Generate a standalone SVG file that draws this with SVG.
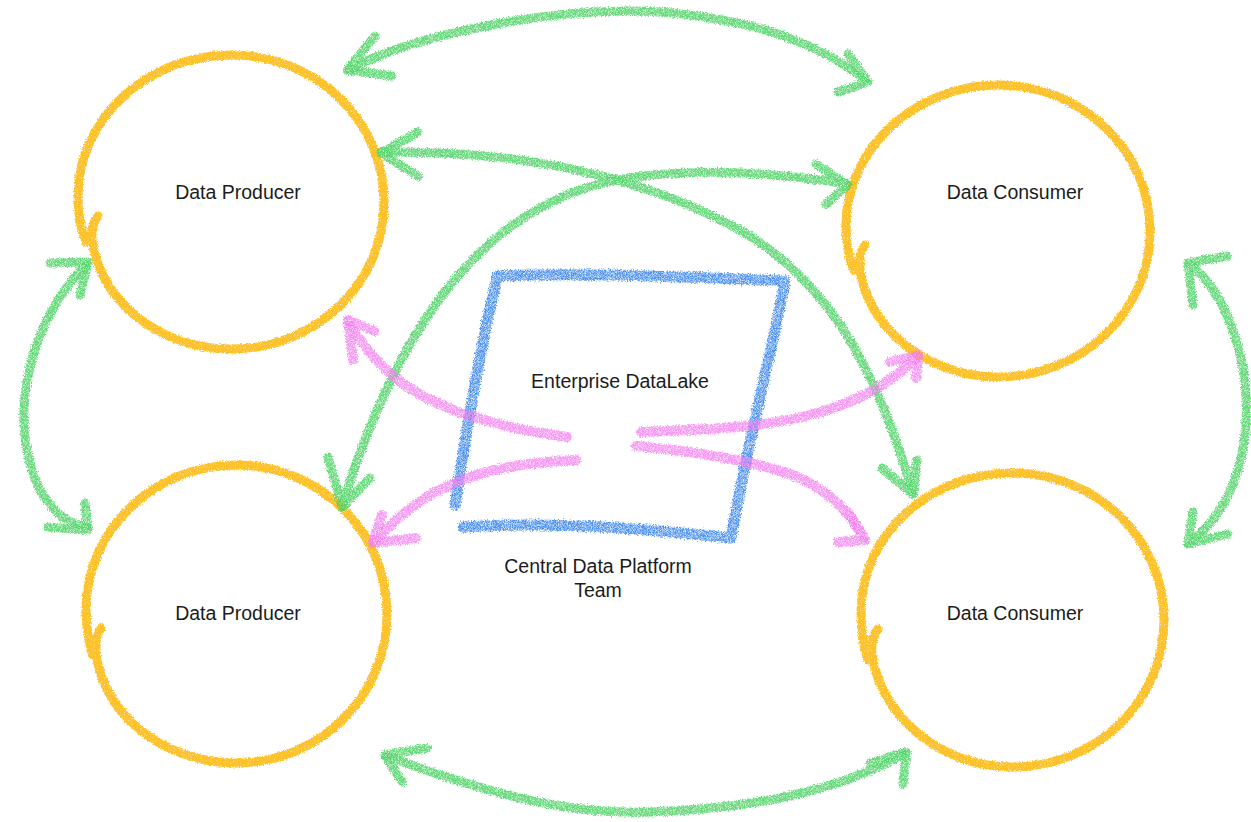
<svg xmlns="http://www.w3.org/2000/svg" width="1251" height="822" viewBox="0 0 1251 822">
  <defs>
    <!-- wax crayon texture: wobbly edges plus paper grain punched into the stroke -->
    <filter id="crayon" filterUnits="userSpaceOnUse" x="0" y="0" width="1251" height="822">
      <feTurbulence type="fractalNoise" baseFrequency="0.7" numOctaves="2" seed="4" result="fuzz"/>
      <feDisplacementMap in="SourceGraphic" in2="fuzz" scale="4" xChannelSelector="R" yChannelSelector="G" result="rough"/>
      <feTurbulence type="fractalNoise" baseFrequency="1.3" numOctaves="1" seed="9" result="grain"/>
      <feColorMatrix in="grain" type="matrix" values="0 0 0 0 0  0 0 0 0 0  0 0 0 0 0  2.8 0 0 0 -0.2" result="grainMask"/>
      <feComposite in="rough" in2="grainMask" operator="in"/>
    </filter>
    <filter id="crayon-blue" filterUnits="userSpaceOnUse" x="0" y="0" width="1251" height="822">
      <feTurbulence type="fractalNoise" baseFrequency="0.7" numOctaves="2" seed="6" result="fuzz"/>
      <feDisplacementMap in="SourceGraphic" in2="fuzz" scale="6" xChannelSelector="R" yChannelSelector="G" result="rough"/>
      <feTurbulence type="fractalNoise" baseFrequency="1.4" numOctaves="1" seed="13" result="grain"/>
      <feColorMatrix in="grain" type="matrix" values="0 0 0 0 0  0 0 0 0 0  0 0 0 0 0  2.2 0 0 0 -0.4" result="grainMask"/>
      <feComposite in="rough" in2="grainMask" operator="in"/>
    </filter>
    <filter id="crayon-soft" filterUnits="userSpaceOnUse" x="0" y="0" width="1251" height="822">
      <feTurbulence type="fractalNoise" baseFrequency="0.7" numOctaves="2" seed="11" result="fuzz"/>
      <feDisplacementMap in="SourceGraphic" in2="fuzz" scale="5" xChannelSelector="R" yChannelSelector="G" result="rough"/>
      <feTurbulence type="fractalNoise" baseFrequency="1.4" numOctaves="1" seed="3" result="grain"/>
      <feColorMatrix in="grain" type="matrix" values="0 0 0 0 0  0 0 0 0 0  0 0 0 0 0  2.4 0 0 0 -0.35" result="grainMask"/>
      <feComposite in="rough" in2="grainMask" operator="in"/>
    </filter>
  </defs>
  <style>
    .ring { fill: none; stroke: #FDC22C; stroke-width: 9; stroke-linecap: round; stroke-linejoin: round; }
    .lake { fill: none; stroke: #4A8FF0; stroke-width: 11; stroke-linecap: round; stroke-linejoin: round; }
    .flow { fill: none; stroke: #52D46A; stroke-width: 9; stroke-linecap: round; stroke-linejoin: round; stroke-opacity: 0.88; }
    .feed { fill: none; stroke: #F47CF0; stroke-width: 10; stroke-linecap: round; stroke-linejoin: round; stroke-opacity: 0.78; }
    .label { font-family: "Liberation Sans", Arial, sans-serif; font-size: 19.5px; fill: #1c1c1c; text-anchor: middle; }
  </style>

  <rect width="1251" height="822" fill="#ffffff"/>

  <!-- domain nodes -->
  <g id="producer-top">
    <path class="ring" filter="url(#crayon)" d="M 86,242 C 80,228 78,212 78,196 C 78,120 146,55 231,55 C 316,55 384,120 384,202 C 384,284 316,349 231,349 C 158,349 100,300 92,240 C 91,230 93,222 98,216"/>
    <text class="label" x="238" y="199">Data Producer</text>
  </g>
  <g id="consumer-top">
    <path class="ring" filter="url(#crayon)" d="M 854,270 C 848,256 846,240 846,225 C 846,150 914,85 998,85 C 1082,85 1150,150 1150,231 C 1150,312 1082,377 998,377 C 925,377 866,325 860,268 C 859,258 861,250 865,245"/>
    <text class="label" x="1015" y="199">Data Consumer</text>
  </g>
  <g id="producer-bottom">
    <path class="ring" filter="url(#crayon)" d="M 93,655 C 88,640 86,625 86,610 C 86,530 154,465 236,465 C 320,465 387,532 387,614 C 387,696 320,763 236,763 C 162,763 102,712 96,652 C 95,642 97,634 101,628"/>
    <text class="label" x="238" y="620">Data Producer</text>
  </g>
  <g id="consumer-bottom">
    <path class="ring" filter="url(#crayon)" d="M 868,660 C 863,645 861,628 861,612 C 861,534 930,473 1012,473 C 1096,473 1164,538 1164,620 C 1164,702 1096,767 1012,767 C 940,767 880,715 872,654 C 871,643 873,635 878,629"/>
    <text class="label" x="1015" y="620">Data Consumer</text>
  </g>

  <!-- central platform -->
  <g id="datalake">
    <g filter="url(#crayon-blue)">
      <path class="lake" d="M 455,505 C 468,420 482,340 497,278"/>
      <path class="lake" d="M 497,276 C 580,272 700,277 785,281 C 770,360 746,450 731,538"/>
      <path class="lake" d="M 463,527 C 550,521 650,529 731,538"/>
    </g>
    <text class="label" x="620" y="388">Enterprise DataLake</text>
    <text class="label" x="598" y="573">Central Data Platform</text>
    <text class="label" x="598" y="597">Team</text>
  </g>

  <!-- connectors -->
  <g id="connectors">
    <g id="peer-links" filter="url(#crayon-soft)">
      <!-- producer top <-> consumer top -->
      <path class="flow" d="M 348,70 C 420,32 560,6 660,12 C 760,20 820,45 866,80"/>
      <path class="flow" d="M 375,36 L 347,70 L 392,76"/>
      <path class="flow" d="M 848,54 L 868,82 L 838,92"/>
      <!-- producer top <-> consumer bottom -->
      <path class="flow" d="M 382,152 C 520,150 640,175 740,230 C 835,285 880,380 913,494"/>
      <path class="flow" d="M 418,132 L 381,153 L 418,176"/>
      <path class="flow" d="M 882,468 L 913,494 L 917,460"/>
      <!-- consumer top <-> producer bottom -->
      <path class="flow" d="M 848,184 C 760,170 650,165 580,190 C 480,225 400,320 342,506"/>
      <path class="flow" d="M 816,164 L 848,185 L 826,204"/>
      <path class="flow" d="M 328,457 L 342,507 L 370,478"/>
      <!-- producer top <-> producer bottom -->
      <path class="flow" d="M 86,265 C 30,320 5,420 40,490 C 55,515 70,525 88,527"/>
      <path class="flow" d="M 50,263 L 88,262 L 80,295"/>
      <path class="flow" d="M 48,527 L 88,530 L 85,503"/>
      <!-- consumer top <-> consumer bottom -->
      <path class="flow" d="M 1190,265 C 1225,290 1250,360 1246,420 C 1243,480 1220,520 1189,543"/>
      <path class="flow" d="M 1227,256 L 1188,263 L 1193,305"/>
      <path class="flow" d="M 1193,512 L 1188,544 L 1228,534"/>
      <!-- producer bottom <-> consumer bottom -->
      <path class="flow" d="M 386,756 C 480,790 560,815 650,812 C 760,808 840,790 906,753"/>
      <path class="flow" d="M 427,748 L 385,755 L 402,782"/>
      <path class="flow" d="M 870,763 L 906,752 L 903,784"/>
    </g>
    <g id="platform-links" filter="url(#crayon-soft)">
      <path class="feed" d="M 567,437 C 500,428 440,410 405,385 C 380,367 362,345 348,322"/>
      <path class="feed" d="M 374,331 L 348,320 L 353,360"/>
      <path class="feed" d="M 576,460 C 520,462 470,472 430,495 C 405,510 390,525 374,542"/>
      <path class="feed" d="M 382,515 L 373,543 L 416,538"/>
      <path class="feed" d="M 641,432 C 700,430 760,428 810,415 C 860,402 895,380 917,356"/>
      <path class="feed" d="M 890,362 L 918,355 L 916,378"/>
      <path class="feed" d="M 636,446 C 700,452 760,462 800,478 C 830,492 850,512 864,538"/>
      <path class="feed" d="M 848,512 L 865,540 L 838,542"/>
    </g>
  </g>
</svg>
